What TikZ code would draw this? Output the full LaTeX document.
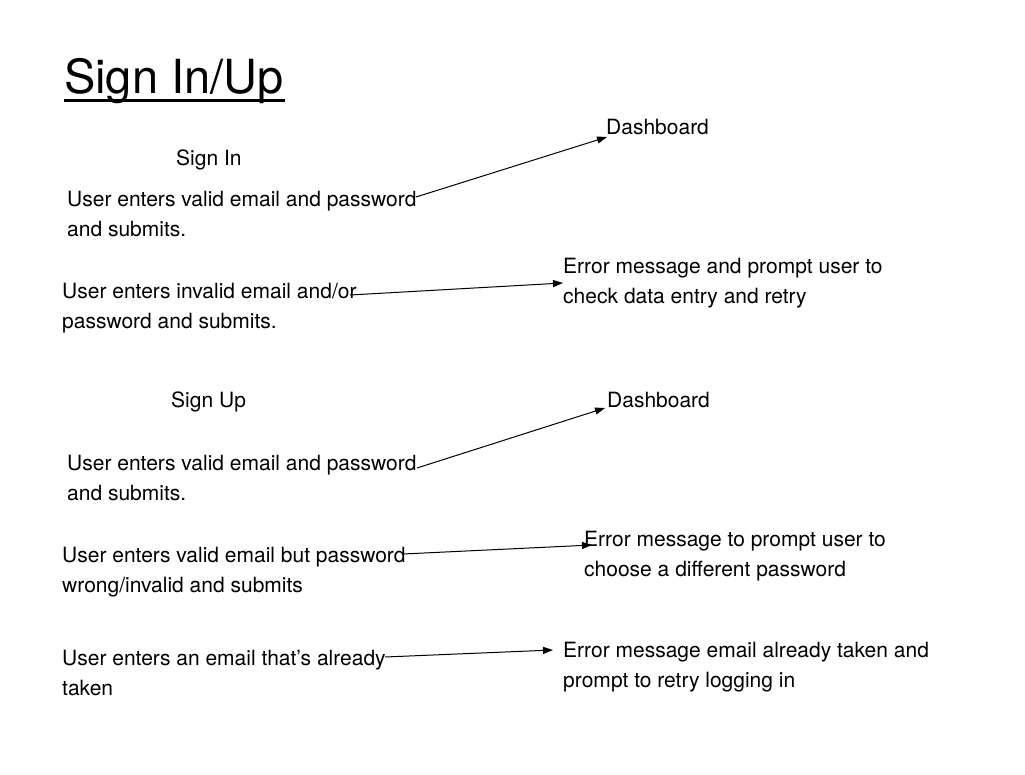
\documentclass[tikz,border=0pt]{standalone}
\usepackage{fontspec}
\setmainfont{TeX Gyre Heros}
\usetikzlibrary{arrows.meta}
\begin{document}
\begin{tikzpicture}[x=1pt,y=-1pt,
  txt/.style={anchor=base west,inner sep=0pt,align=left,font=\fontsize{21}{30}\selectfont},
  conn/.style={line width=1pt,-{Triangle[length=10pt,width=7pt]}}]
\useasboundingbox[fill=white] (0,0) rectangle (1025,775);
% title
\node[anchor=base west,inner sep=0pt,font=\fontsize{47}{50}\selectfont] (title) at (64,94) {Sign In/Up};
\draw[line width=3pt] (title.base west)++(0,7) -- ++(221,0);
% sign in (two-line nodes are placed at the baseline of their last line)
\node[txt] (signin) at (176,166) {Sign In};
\node[txt] (in1) at (67,237) {User enters valid email and password\\and submits.};
\node[txt] (dash1) at (606,135) {Dashboard};
\node[txt] (in2) at (62,329) {User enters invalid email and/or\\password and submits.};
\node[txt] (err1) at (563,304) {Error message and prompt user to\\check data entry and retry};
% sign up
\node[txt] (signup) at (171,407) {Sign Up};
\node[txt] (dash2) at (607,407) {Dashboard};
\node[txt] (up1) at (67,500) {User enters valid email and password\\and submits.};
\node[txt] (up2) at (62,592) {User enters valid email but password\\wrong/invalid and submits};
\node[txt] (err2) at (584,576) {Error message to prompt user to\\choose a different password};
\node[txt] (up3) at (62,695) {User enters an email that’s already\\taken};
\node[txt] (err3) at (563,687) {Error message email already taken and\\prompt to retry logging in};
% connector endpoints
\coordinate (s1) at (416,197);
\coordinate (t1) at (607,137);
\coordinate (s2) at (350,295);
\coordinate (t2) at (563,283);
\coordinate (s3) at (417,468);
\coordinate (t3) at (605,408);
\coordinate (s4) at (403,554);
\coordinate (t4) at (592,545);
\coordinate (s5) at (385,657);
\coordinate (t5) at (553,650);
\draw[conn] (s1) -- (t1);
\draw[conn] (s2) -- (t2);
\draw[conn] (s3) -- (t3);
\draw[conn] (s4) -- (t4);
\draw[conn] (s5) -- (t5);
\end{tikzpicture}
\end{document}
